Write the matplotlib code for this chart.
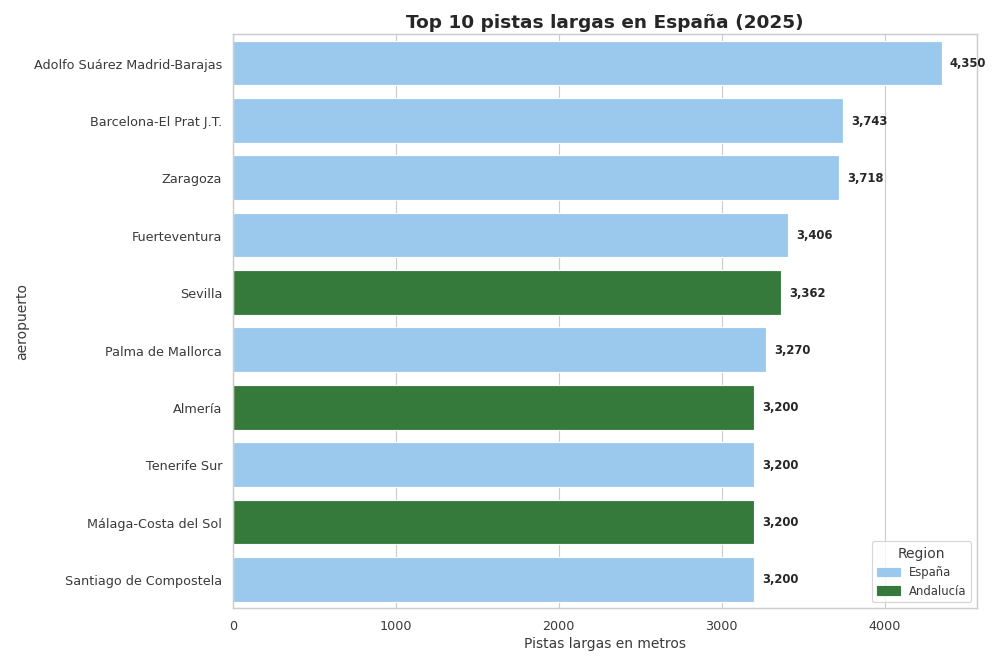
import matplotlib
matplotlib.use("Agg")
import matplotlib.pyplot as plt
import seaborn as sns
from matplotlib.patches import Patch

airports = ["Adolfo Suárez Madrid-Barajas", "Barcelona-El Prat J.T.", "Zaragoza",
            "Fuerteventura", "Sevilla", "Palma de Mallorca", "Almería",
            "Tenerife Sur", "Málaga-Costa del Sol", "Santiago de Compostela"]
lengths = [4350, 3743, 3718, 3406, 3362, 3270, 3200, 3200, 3200, 3200]
regions = ["España", "España", "España", "España", "Andalucía", "España",
           "Andalucía", "España", "Andalucía", "España"]
palette = {"España": "#9BC9EE", "Andalucía": "#357A3B"}

sns.set_theme(style="whitegrid")
txt = "#3a3a3a"
plt.rcParams.update({"text.color": txt, "axes.labelcolor": txt,
                     "xtick.color": txt, "ytick.color": txt})
fig, ax = plt.subplots(figsize=(12, 8), dpi=83.333)
fig.subplots_adjust(left=0.233, right=0.977, top=0.9475, bottom=0.087)

colors = [palette[r] for r in regions]
ypos = list(range(len(airports)))
ax.barh(ypos, lengths, height=0.78, color=colors)
ax.set_yticks(ypos)
ax.set_yticklabels(airports, fontsize=11)
ax.set_ylim(len(airports) - 0.5, -0.5)
ax.margins(x=0.05)
ax.tick_params(axis="x", labelsize=11)
ax.grid(axis="y", visible=False)

for y, v in zip(ypos, lengths):
    ax.text(v + 50, y, f"{v:,}", va="center", ha="left", fontsize=10,
            fontweight="bold", color="#262626")

ax.set_title("Top 10 pistas largas en España (2025)", fontsize=16,
             fontweight="bold", color="#262626", pad=6)
ax.set_xlabel("Pistas largas en metros", fontsize=12)
ax.set_ylabel("aeropuerto", fontsize=12)

handles = [Patch(color=palette["España"], label="España"),
           Patch(color=palette["Andalucía"], label="Andalucía")]
ax.legend(handles=handles, title="Region", loc="lower right", fontsize=10,
          title_fontsize=12)

fig.savefig("out.png", dpi=83.333)
